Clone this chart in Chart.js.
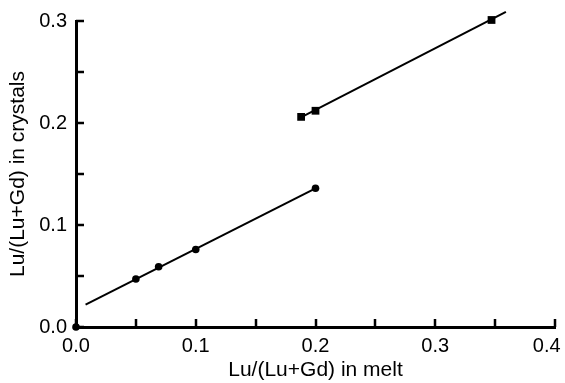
<!DOCTYPE html>
<html>
<head>
<meta charset="utf-8">
<script src="https://cdn.jsdelivr.net/npm/chart.js@4.4.1/dist/chart.umd.min.js"></script>
<style>
  html, body { margin: 0; padding: 0; background: #fff; }
  #wrap { width: 565px; height: 383px; }
</style>
</head>
<body>
<div id="wrap"><canvas id="myChart" width="565" height="383"></canvas></div>
<script>
// measured points (circles)
const meltCircles = [0, 0.05, 0.069, 0.1, 0.2];
const crystCircles = [0, 0.047, 0.059, 0.076, 0.136];
// measured points (squares)
const meltSquares = [0.188, 0.2, 0.347];
const crystSquares = [0.206, 0.212, 0.301];
// fitted lines, end points
const fitLowX = [0.008, 0.2];
const fitLowY = [0.022, 0.136];
const fitHighX = [0.187, 0.359];
const fitHighY = [0.205, 0.309];
// axis ranges
const xTicks = [0, 0.1, 0.2, 0.3, 0.4];
const yTicks = [0, 0.1, 0.2, 0.3];

function pairs(xs, ys) {
    return xs.map(function (x, i) { return {x: x, y: ys[i]}; });
}

function isMajor(v) {
    return Math.abs(v * 10 - Math.round(v * 10)) < 1e-6;
}

// ticks pointing into the plot
const innerTicks = {
    id: 'innerTicks',
    afterDraw: function (chart) {
        const ctx = chart.ctx;
        const xs = chart.scales.x, ys = chart.scales.y;
        const a = chart.chartArea;
        ctx.save();
        ctx.strokeStyle = '#000';
        ctx.lineWidth = 2.5;
        ctx.beginPath();
        xs.ticks.forEach(function (t) {
            const px = Math.round(xs.getPixelForValue(t.value));
            ctx.moveTo(px, a.bottom);
            ctx.lineTo(px, a.bottom - 8);
        });
        ys.ticks.forEach(function (t) {
            const py = Math.round(ys.getPixelForValue(t.value));
            ctx.moveTo(a.left, py);
            ctx.lineTo(a.left + 8, py);
        });
        ctx.stroke();
        ctx.restore();
    }
};

const font = 'Liberation Sans, Arial, sans-serif';

const ctx = document.getElementById('myChart').getContext('2d');
const chart = new Chart(ctx, {
    type: 'scatter',
    data: {
        datasets: [{
            label: 'low fit',
            type: 'line',
            data: pairs(fitLowX, fitLowY),
            borderColor: '#000',
            borderWidth: 2,
            pointRadius: 0,
            clip: false
        }, {
            label: 'high fit',
            type: 'line',
            data: pairs(fitHighX, fitHighY),
            borderColor: '#000',
            borderWidth: 2,
            pointRadius: 0,
            clip: false
        }, {
            label: 'circles',
            data: pairs(meltCircles, crystCircles),
            pointStyle: 'circle',
            pointRadius: 3.8,
            backgroundColor: '#000',
            borderColor: '#000',
            borderWidth: 0,
            clip: false
        }, {
            label: 'squares',
            data: pairs(meltSquares, crystSquares),
            pointStyle: 'rect',
            pointRadius: 5.5,
            backgroundColor: '#000',
            borderColor: '#000',
            borderWidth: 0,
            clip: false
        }]
    },
    options: {
        responsive: false,
        animation: false,
        events: [],
        layout: { padding: { left: 0, top: 21, right: 10, bottom: 0 } },
        plugins: { legend: { display: false }, tooltip: { enabled: false } },
        scales: {
            x: {
                type: 'linear',
                min: xTicks[0],
                max: xTicks[xTicks.length - 1],
                grid: { display: false, drawTicks: false },
                border: { display: true, color: '#000', width: 3 },
                ticks: {
                    stepSize: 0.05,
                    autoSkip: false,
                    maxRotation: 0,
                    padding: 7,
                    color: '#000',
                    font: { family: font, size: 20 },
                    callback: function (v) {
                        if (!isMajor(v)) return '';
                        // last label sits left of its tick, inside the picture
                        return v === xTicks[xTicks.length - 1] ? v.toFixed(1) + '   ' : v.toFixed(1);
                    }
                },
                title: {
                    display: true,
                    text: 'Lu/(Lu+Gd) in melt',
                    color: '#000',
                    font: { family: font, size: 21 },
                    padding: { top: 0, bottom: 0 }
                },
                afterFit: function (s) {
                    s.height = 56;
                    s.paddingLeft = 0;
                    s.paddingRight = 0;
                }
            },
            y: {
                type: 'linear',
                min: yTicks[0],
                max: yTicks[yTicks.length - 1],
                grid: { display: false, drawTicks: false },
                border: { display: true, color: '#000', width: 3 },
                ticks: {
                    stepSize: 0.05,
                    autoSkip: false,
                    padding: 9,
                    color: '#000',
                    font: { family: font, size: 20 },
                    callback: function (v) {
                        return isMajor(v) ? v.toFixed(1) : '';
                    }
                },
                title: {
                    display: true,
                    text: 'Lu/(Lu+Gd) in crystals',
                    color: '#000',
                    font: { family: font, size: 21 },
                    padding: { top: 6, bottom: 0 }
                },
                afterFit: function (s) {
                    s.width = 76;
                    s.paddingTop = 0;
                    s.paddingBottom = 0;
                }
            }
        }
    },
    plugins: [innerTicks]
});
</script>
</body>
</html>
